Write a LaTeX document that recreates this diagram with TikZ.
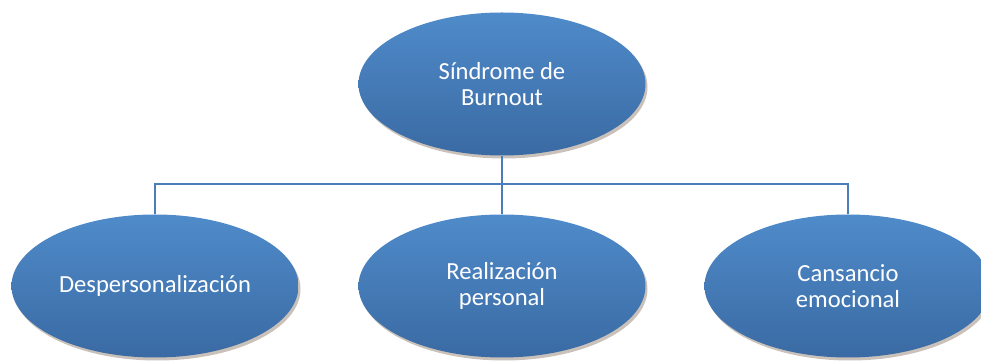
\documentclass[tikz,border=0pt]{standalone}
\usepackage{fontspec}
\setmainfont{Carlito}
\usetikzlibrary{shapes.geometric,shadows}
\definecolor{ctop}{HTML}{4F8BCA}
\definecolor{cbot}{HTML}{3A6AA3}
\definecolor{cline}{HTML}{4A7EBB}
\begin{document}
\begin{tikzpicture}[x=1pt,y=1pt,
  bubble/.style={ellipse, inner sep=0pt, minimum width=287pt, minimum height=143pt,
    top color=ctop, bottom color=cbot, draw=none, text=white, align=center,
    font=\fontsize{24.6}{25.5}\selectfont,
    drop shadow={shadow xshift=2pt, shadow yshift=-3pt, opacity=0.3, fill=black!60!brown}},
  link/.style={draw=cline, line width=1.5pt}]
\useasboundingbox (0,0) rectangle (981,361);
\node[bubble] (top) at (502,277) {Síndrome de\\Burnout};
\node[bubble] (l) at (155,75) {Despersonalización};
\node[bubble] (m) at (502,75) {Realización\\personal};
\node[bubble] (r) at (848,75) {Cansancio\\emocional};
\coordinate (bar) at (502,177);
\draw[link] (top.south) -- (m.north);
\draw[link] (l.north) |- (bar) -| (r.north);
\end{tikzpicture}
\end{document}
